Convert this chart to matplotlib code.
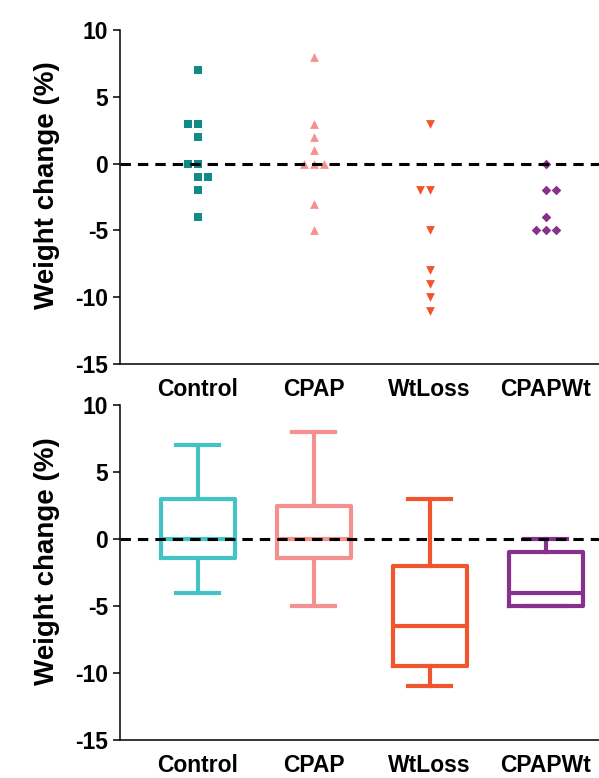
import matplotlib
matplotlib.use("Agg")
import matplotlib.pyplot as plt

plt.rcParams['font.family'] = ['Liberation Sans', 'DejaVu Sans']
plt.rcParams['font.weight'] = 'bold'
plt.rcParams['axes.unicode_minus'] = False

groups = ["Control", "CPAP", "WtLoss", "CPAPWt"]

# individual weight changes (%) - top panel
control = [7, 3, 3, 2, 0, 0, -1, -1, -2, -4]
cpap = [8, 3, 2, 1, 0, 0, 0, -3, -5]
wtloss = [3, -2, -2, -5, -8, -9, -10, -11]
cpapwt = [0, -2, -2, -4, -5, -5, -5]

# box summary - bottom panel
box_min = [-4, -5, -11, -5]
box_q1 = [-1.4, -1.4, -9.5, -5]
box_med = [0, 0, -6.5, -4]
box_q3 = [3, 2.5, -2, -1]
box_max = [7, 8, 3, 0]

# side-by-side slots for tied points (layout only)
slots = [
    [0, -1, 0, 0, -1, 0, 0, 1, 0, 0],
    [0, 0, 0, 0, -1, 0, 1, 0, 0],
    [0, -1, 0, 0, 0, 0, 0, 0],
    [0, 0, 1, 0, -1, 0, 1],
]
slot_w = 0.086

point_colors = ['#0f8a8a', '#f59090', '#f0552e', '#87308c']
box_colors = ['#44c3c7', '#f59090', '#f0552e', '#87308c']
markers = ['s', '^', 'v', 'D']
msizes = [33, 40, 40, 24]

fig = plt.figure(figsize=(5.99, 7.78), dpi=100)
ax1 = fig.add_axes([120 / 599, 1 - 364 / 778, 479 / 599, 334 / 778])
ax2 = fig.add_axes([120 / 599, 1 - 740 / 778, 479 / 599, 335 / 778])


def style_axis(ax):
    ax.set_xlim(-0.67, -0.67 + 479 / 116)
    ax.set_ylim(-15, 10)
    ax.set_yticks([-15, -10, -5, 0, 5, 10])
    ax.set_xticks(range(len(groups)))
    ax.set_xticklabels(groups)
    ax.spines['top'].set_visible(False)
    ax.spines['right'].set_visible(False)
    ax.spines['left'].set_linewidth(1.1)
    ax.spines['bottom'].set_linewidth(1.1)
    ax.tick_params(axis='y', length=5, width=1.1, pad=3.5, labelsize=16.5)
    ax.tick_params(axis='x', length=0, pad=10, labelsize=16.5)
    ax.set_ylabel("Weight change (%)", fontsize=20, fontweight='bold')
    ax.yaxis.set_label_coords(-0.125, 0.535)
    ax.axhline(0, color='black', lw=2.2, ls=(0, (3.4, 2.3)), zorder=5)


# top: individual points
for i, vals in enumerate([control, cpap, wtloss, cpapwt]):
    xs = [i + s * slot_w for s in slots[i]]
    ax1.scatter(xs, vals, marker=markers[i], s=msizes[i], color=point_colors[i],
                linewidths=0, zorder=3)
style_axis(ax1)

# bottom: box and whiskers
stats = []
for i, g in enumerate(groups):
    stats.append({'label': g, 'whislo': box_min[i], 'q1': box_q1[i], 'med': box_med[i],
                  'q3': box_q3[i], 'whishi': box_max[i]})
for i, st in enumerate(stats):
    c = box_colors[i]
    ax2.bxp([st], positions=[i], widths=0.64, capwidths=0.37, showfliers=False,
            boxprops=dict(color=c, lw=3),
            whiskerprops=dict(color=c, lw=3),
            capprops=dict(color=c, lw=3),
            medianprops=dict(color=c, lw=3),
            manage_ticks=False)
style_axis(ax2)

fig.savefig("out.png", dpi=100)
